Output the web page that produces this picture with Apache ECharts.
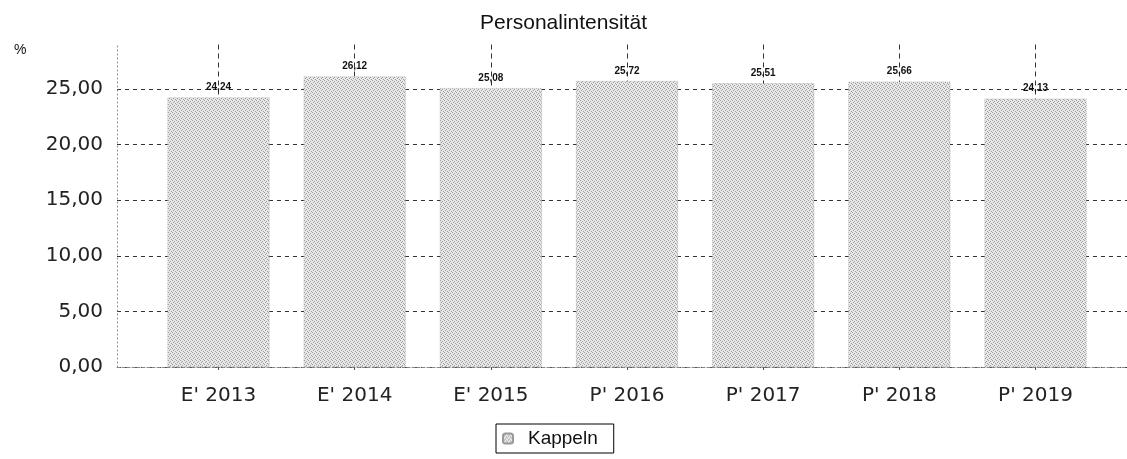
<!DOCTYPE html>
<html>
<head>
<meta charset="utf-8">
<script src="https://cdn.jsdelivr.net/npm/echarts@6/dist/echarts.min.js"></script>
<style>
  html, body { margin: 0; padding: 0; background: #fff; }
  #chart { width: 1127px; height: 459px; }
</style>
</head>
<body>
<div id="chart"></div>
<script>
// Daten
var categories = ["E' 2013", "E' 2014", "E' 2015", "P' 2016", "P' 2017", "P' 2018", "P' 2019"];
var kappeln = [24.24, 26.12, 25.08, 25.72, 25.51, 25.66, 24.13];
var seriesName = 'Kappeln';
var yStep = 5;      // Abstand der Teilstriche
var yTop = 25;      // letzter beschrifteter Wert
var yMax = 29;      // oberes Ende der Achse

// Rasterfüllung wie im Original (Punktmuster)
function makePattern() {
    var c = document.createElement('canvas');
    c.width = 4; c.height = 4;
    var ctx = c.getContext('2d');
    ctx.fillStyle = '#e8e8e8';
    ctx.fillRect(0, 0, 4, 4);
    ctx.fillStyle = '#9e9e9e';
    ctx.fillRect(0, 0, 1, 1);
    ctx.fillRect(2, 1, 1, 1);
    ctx.fillRect(1, 2, 1, 1);
    ctx.fillRect(3, 3, 1, 1);
    return c;
}
var fill = { image: makePattern(), repeat: 'repeat' };

function komma(v) {
    return v.toFixed(2).replace('.', ',');
}

var myChart = echarts.init(document.getElementById('chart'));
var option = {
    animation: false,
    title: [
        {
            text: 'Personalintensität',
            left: 'center',
            top: 8,
            textStyle: { fontFamily: 'Liberation Sans', fontSize: 21, fontWeight: 'normal', color: '#111' }
        },
        {
            text: '%',
            left: 9,
            top: 38,
            textStyle: { fontFamily: 'Liberation Sans', fontSize: 14, fontWeight: 'normal', color: '#111' }
        }
    ],
    legend: {
        data: [seriesName],
        bottom: 6,
        left: 496,
        borderColor: '#000',
        borderWidth: 1,
        padding: [5, 16, 5, 6],
        itemWidth: 10,
        itemHeight: 10,
        textStyle: { fontFamily: 'Liberation Sans', fontSize: 19, color: '#111', padding: [0, 0, 0, 10] }
    },
    grid: [
        // Hintergrund: waagerechte Hilfslinien über die ganze Breite
        { left: 117, right: 0, top: 89, bottom: 92 },
        // Balken
        { left: 218.5, right: 91.5, top: 44.5, bottom: 92 }
    ],
    xAxis: [
        {
            gridIndex: 0,
            type: 'value',
            min: 0,
            max: 1,
            axisLine: { show: true, lineStyle: { color: '#888', type: [3, 2], width: 1 } },
            axisTick: { show: false },
            axisLabel: { show: false },
            splitLine: { show: false }
        },
        {
            gridIndex: 1,
            type: 'category',
            data: categories,
            boundaryGap: false,
            axisLine: { show: false },
            axisTick: { show: true, length: 3, lineStyle: { color: '#555' } },
            axisLabel: { fontFamily: 'DejaVu Sans', fontSize: 20, color: '#222', margin: 19 },
            splitLine: { show: true, lineStyle: { color: '#333', type: [5, 4], width: 1 } }
        }
    ],
    yAxis: [
        {
            gridIndex: 0,
            type: 'value',
            min: 0,
            max: yTop,
            interval: yStep,
            axisLine: { show: false },
            axisTick: { show: false },
            axisLabel: {
                fontFamily: 'DejaVu Sans', fontSize: 20, color: '#222', margin: 14,
                formatter: function (v) { return komma(v); }
            },
            splitLine: { show: true, lineStyle: { color: '#333', type: [4, 4], width: 1 } }
        },
        {
            gridIndex: 1,
            type: 'value',
            min: 0,
            max: yMax,
            offset: 101.5,
            axisLine: { show: true, lineStyle: { color: '#888', type: [1, 3], width: 1 } },
            axisTick: { show: false },
            axisLabel: { show: false },
            splitLine: { show: false }
        }
    ],
    series: [
        {
            name: seriesName,
            type: 'bar',
            xAxisIndex: 1,
            yAxisIndex: 1,
            barWidth: 102,
            clip: false,
            itemStyle: { color: fill, borderColor: '#999', borderWidth: 0.6, borderType: [1, 1] },
            label: {
                show: true,
                position: 'top',
                distance: 5,
                fontFamily: 'Liberation Sans',
                fontSize: 10,
                fontWeight: 'bold',
                color: '#111',
                formatter: function (p) { return komma(p.value); }
            },
            data: kappeln
        }
    ]
};
myChart.setOption(option);
</script>
</body>
</html>
